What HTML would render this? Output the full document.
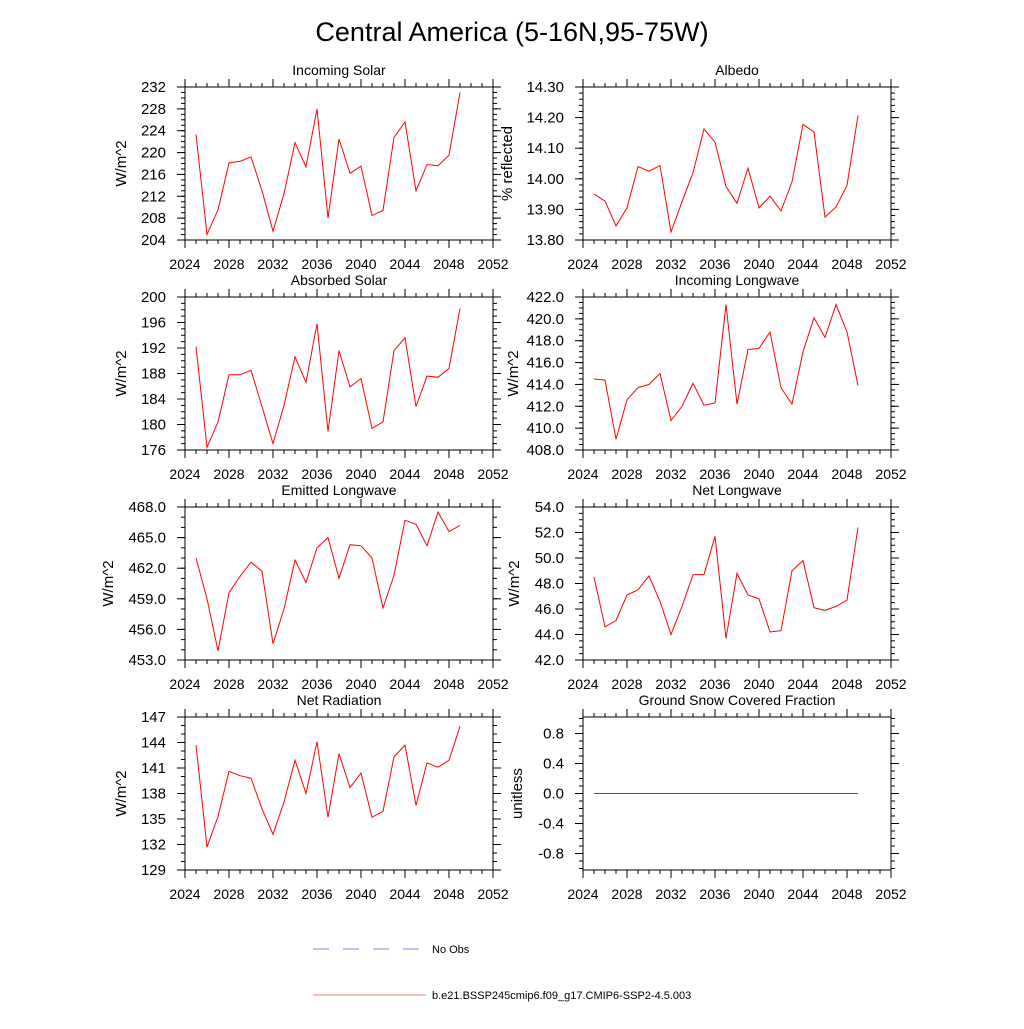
<!DOCTYPE html>
<html><head><meta charset="utf-8"><style>
body{margin:0;background:#fff;}
svg{font-family:"Liberation Sans",sans-serif;}
</style></head><body>
<svg id="chart" width="1024" height="1024" xmlns="http://www.w3.org/2000/svg">
<rect width="1024" height="1024" fill="#fff"/>
<text x="512" y="41" font-size="27" text-anchor="middle">Central America (5-16N,95-75W)</text>
<g>
<line x1="313" y1="949" x2="420" y2="949" stroke="#8888ee" stroke-width="1" stroke-dasharray="16,14"/>
<text x="432" y="953" font-size="11">No Obs</text>
<line x1="313" y1="995" x2="426" y2="995" stroke="#f08080" stroke-width="1"/>
<text x="432" y="999" font-size="11">b.e21.BSSP245cmip6.f09_g17.CMIP6-SSP2-4.5.003</text>
</g>
</svg>
<script>
const years=[2025,2026,2027,2028,2029,2030,2031,2032,2033,2034,2035,2036,2037,2038,2039,2040,2041,2042,2043,2044,2045,2046,2047,2048,2049];
const xTicks=[2024,2028,2032,2036,2040,2044,2048,2052];
const incomingSolar=[223.3,205,209.5,218.1,218.4,219.2,213,205.6,212.5,221.8,217.4,228,208,222.5,216.2,217.5,208.5,209.4,222.8,225.6,213,217.8,217.6,219.5,231];
const albedo=[13.95,13.927,13.846,13.905,14.04,14.025,14.043,13.826,13.925,14.02,14.163,14.12,13.975,13.92,14.035,13.905,13.943,13.895,13.99,14.178,14.153,13.875,13.908,13.978,14.207];
const absorbedSolar=[192.2,176.4,180.4,187.8,187.8,188.5,182.8,177,183,190.6,186.6,195.8,178.9,191.6,185.9,187.2,179.4,180.4,191.6,193.6,182.8,187.6,187.4,188.8,198.2];
const incomingLW=[414.5,414.4,409,412.6,413.7,414,415,410.7,412,414.1,412.1,412.3,421.3,412.2,417.2,417.3,418.8,413.7,412.2,417,420.1,418.3,421.3,418.8,413.9];
const emittedLW=[463,459,453.9,459.6,461.2,462.6,461.7,454.6,458,462.8,460.6,464,465,461,464.3,464.2,463,458.1,461.3,466.7,466.3,464.2,467.5,465.6,466.2];
const netLW=[48.5,44.6,45.1,47.1,47.5,48.6,46.6,44,46.2,48.7,48.7,51.7,43.7,48.8,47.1,46.8,44.2,44.3,49,49.8,46.1,45.9,46.2,46.7,52.4];
const netRad=[143.7,131.7,135.3,140.6,140.1,139.8,136.2,133.2,137,141.9,138,144.1,135.2,142.7,138.7,140.4,135.2,135.9,142.3,143.7,136.6,141.6,141.1,141.9,145.9];
const snow=[0,0,0,0,0,0,0,0,0,0,0,0,0,0,0,0,0,0,0,0,0,0,0,0,0];
const ticksIS=[204,208,212,216,220,224,228,232];
const ticksAlb=[13.8,13.9,14.0,14.1,14.2,14.3];
const ticksAS=[176,180,184,188,192,196,200];
const ticksILW=[408,410,412,414,416,418,420,422];
const ticksELW=[453,456,459,462,465,468];
const ticksNLW=[42,44,46,48,50,52,54];
const ticksNR=[129,132,135,138,141,144,147];
const ticksSnow=[-0.8,-0.4,0,0.4,0.8];

const NS="http://www.w3.org/2000/svg";
const svg=document.getElementById('chart');
function mk(tag,attrs,parent){const e=document.createElementNS(NS,tag);for(const k in attrs)e.setAttribute(k,attrs[k]);(parent||svg).appendChild(e);return e;}
const panels=[
 {name:'incoming-solar',title:'Incoming Solar',yt:'W/m^2',x0:185,y0:87,data:incomingSolar,ticks:ticksIS,min:204,max:232,dec:0,minor:4,ytx:126},
 {name:'albedo',title:'Albedo',yt:'% reflected',x0:583,y0:87,data:albedo,ticks:ticksAlb,min:13.8,max:14.3,dec:2,minor:5,ytx:512},
 {name:'absorbed-solar',title:'Absorbed Solar',yt:'W/m^2',x0:185,y0:297,data:absorbedSolar,ticks:ticksAS,min:176,max:200,dec:0,minor:4,ytx:126},
 {name:'incoming-longwave',title:'Incoming Longwave',yt:'W/m^2',x0:583,y0:297,data:incomingLW,ticks:ticksILW,min:408,max:422,dec:1,minor:4,ytx:518},
 {name:'emitted-longwave',title:'Emitted Longwave',yt:'W/m^2',x0:185,y0:507,data:emittedLW,ticks:ticksELW,min:453,max:468,dec:1,minor:3,ytx:113},
 {name:'net-longwave',title:'Net Longwave',yt:'W/m^2',x0:583,y0:507,data:netLW,ticks:ticksNLW,min:42,max:54,dec:1,minor:4,ytx:519},
 {name:'net-radiation',title:'Net Radiation',yt:'W/m^2',x0:185,y0:717,data:netRad,ticks:ticksNR,min:129,max:147,dec:0,minor:3,ytx:126},
 {name:'ground-snow',title:'Ground Snow Covered Fraction',yt:'unitless',x0:583,y0:717,data:snow,ticks:ticksSnow,min:-1.02,max:1.02,dec:1,minor:4,ytx:522}
];
const W=308,H=153;
panels.forEach(p=>{
 const g=mk('g',{});
 
 
 const xs=v=>p.x0+(v-2024)/(2052-2024)*W;
 const ys=v=>p.y0+H-(v-p.min)/(p.max-p.min)*H;
 const t=mk('text',{x:p.x0+W/2,y:p.y0-12,'font-size':14,'text-anchor':'middle'},g);t.textContent=p.title;
 
 const yt=mk('text',{x:p.ytx,y:p.y0+H/2,'font-size':15,'text-anchor':'middle',transform:`rotate(-90 ${p.ytx} ${p.y0+H/2})`},g);yt.textContent=p.yt;
 
 xTicks.forEach((v,i)=>{const x=xs(v);
  mk('line',{x1:x,y1:p.y0+H,x2:x,y2:p.y0+H+8,stroke:'#000'},g);
  mk('line',{x1:x,y1:p.y0,x2:x,y2:p.y0-8,stroke:'#000'},g);
  const l=mk('text',{x:x,y:p.y0+H+29,'font-size':14,'text-anchor':'middle'},g);l.textContent=v;
  
  if(i<xTicks.length-1){for(let k=1;k<4;k++){const xm=xs(v+k);
   mk('line',{x1:xm,y1:p.y0+H,x2:xm,y2:p.y0+H+4,stroke:'#000'},g);
   mk('line',{x1:xm,y1:p.y0,x2:xm,y2:p.y0-4,stroke:'#000'},g);}}
 });
 const step=p.ticks[1]-p.ticks[0];
 p.ticks.forEach((v,i)=>{const y=ys(v);
  mk('line',{x1:p.x0,y1:y,x2:p.x0-8,y2:y,stroke:'#000'},g);
  mk('line',{x1:p.x0+W,y1:y,x2:p.x0+W+8,y2:y,stroke:'#000'},g);
  const l=mk('text',{x:p.x0-19,y:y+5,'font-size':15,'text-anchor':'end'},g);l.textContent=v.toFixed(p.dec);
  
 });
 for(let v=p.ticks[0]-step;v<=p.max+step;v+=step/p.minor){
  if(v<p.min-1e-9||v>p.max+1e-9)continue;const y=ys(v);
  mk('line',{x1:p.x0,y1:y,x2:p.x0-4,y2:y,stroke:'#000'},g);
  mk('line',{x1:p.x0+W,y1:y,x2:p.x0+W+4,y2:y,stroke:'#000'},g);
 }
 const fr=mk('rect',{x:p.x0,y:p.y0,width:W,height:H,fill:'none',stroke:'#000','stroke-width':1},g);
 
 const pts=p.data.map((v,i)=>xs(years[i]).toFixed(1)+','+ys(v).toFixed(1)).join(' ');
 const pl=mk('polyline',{points:pts,fill:'none',stroke:'#ff0000','stroke-width':1},g);
 
});
</script>
</body></html>
